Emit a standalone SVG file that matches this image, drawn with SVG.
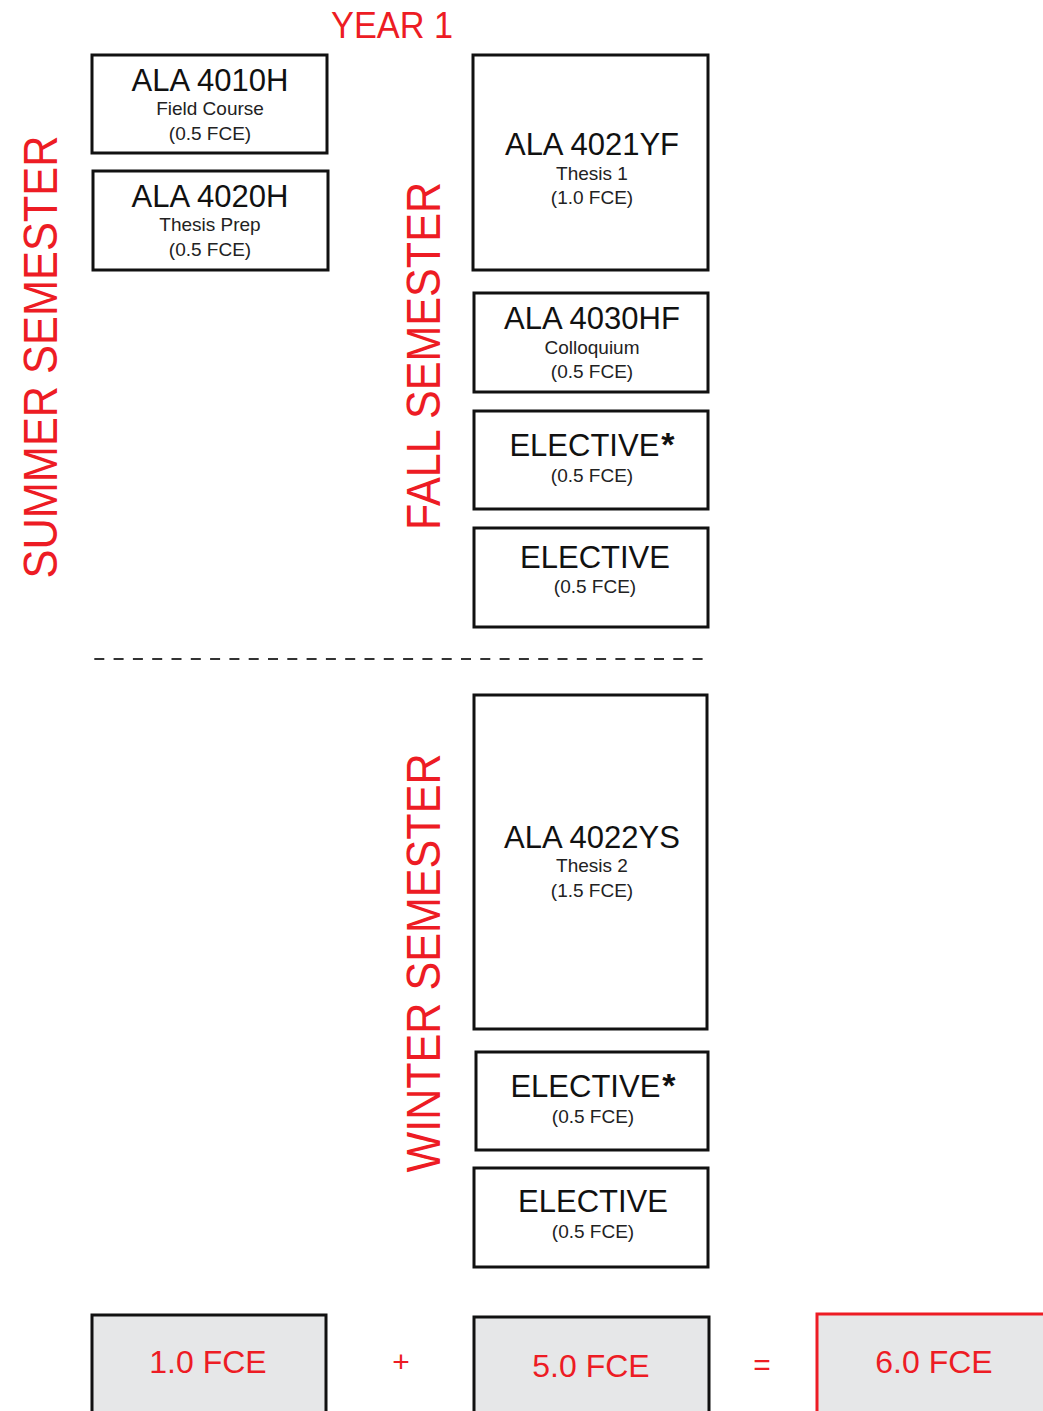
<svg xmlns="http://www.w3.org/2000/svg" width="1043" height="1411" viewBox="0 0 1043 1411">
<style>
.box{fill:#fff;stroke:#111;stroke-width:3}
.tot{fill:#e6e7e8;stroke:#111;stroke-width:3}
.totr{fill:#e6e7e8;stroke:#ed1c24;stroke-width:3}
text{font-family:"Liberation Sans",Arial,sans-serif;text-anchor:middle}
.t{font-size:31px;fill:#111}
.s{font-size:19px;fill:#222}
.red{fill:#ed1c24}
.sem{font-size:48px;fill:#ed1c24}
.big{font-size:32px;fill:#ed1c24}
.ast{font-weight:bold;font-size:34px}
</style>
<rect width="1043" height="1411" fill="#fff"/>
<text class="red" x="392" y="38" font-size="36" textLength="122" lengthAdjust="spacingAndGlyphs">YEAR 1</text>
<text class="sem" transform="translate(57,357) rotate(-90)" textLength="443" lengthAdjust="spacingAndGlyphs">SUMMER SEMESTER</text>
<text class="sem" transform="translate(440,356) rotate(-90)" textLength="348" lengthAdjust="spacingAndGlyphs">FALL SEMESTER</text>
<text class="sem" transform="translate(440,963) rotate(-90)" textLength="419" lengthAdjust="spacingAndGlyphs">WINTER SEMESTER</text>
<g id="connectors">
<line x1="90" y1="659" x2="708" y2="659" stroke="#333" stroke-width="2" stroke-dasharray="10 9.3" stroke-dashoffset="15"/>
</g>
<g id="n4010"><rect class="box" x="92" y="55" width="235" height="98"/>
<text class="t" x="210" y="91">ALA 4010H</text><text class="s" x="210" y="115">Field Course</text><text class="s" x="210" y="140">(0.5 FCE)</text></g>
<g id="n4020"><rect class="box" x="93" y="171" width="235" height="99"/>
<text class="t" x="210" y="207">ALA 4020H</text><text class="s" x="210" y="231">Thesis Prep</text><text class="s" x="210" y="256">(0.5 FCE)</text></g>
<g id="n4021"><rect class="box" x="473" y="55" width="235" height="215"/>
<text class="t" x="592" y="155">ALA 4021YF</text><text class="s" x="592" y="180">Thesis 1</text><text class="s" x="592" y="204">(1.0 FCE)</text></g>
<g id="n4030"><rect class="box" x="474" y="293" width="234" height="99"/>
<text class="t" x="592" y="329">ALA 4030HF</text><text class="s" x="592" y="354">Colloquium</text><text class="s" x="592" y="378">(0.5 FCE)</text></g>
<g id="nel1"><rect class="box" x="474" y="411" width="234" height="98"/>
<text class="t" x="592" y="456">ELECTIVE<tspan class="ast" dx="2">*</tspan></text><text class="s" x="592" y="482">(0.5 FCE)</text></g>
<g id="nel2"><rect class="box" x="474" y="528" width="234" height="99"/>
<text class="t" x="595" y="568">ELECTIVE</text><text class="s" x="595" y="593">(0.5 FCE)</text></g>
<g id="n4022"><rect class="box" x="474" y="695" width="233" height="334"/>
<text class="t" x="592" y="848">ALA 4022YS</text><text class="s" x="592" y="872">Thesis 2</text><text class="s" x="592" y="897">(1.5 FCE)</text></g>
<g id="nel3"><rect class="box" x="476" y="1052" width="232" height="98"/>
<text class="t" x="593" y="1097">ELECTIVE<tspan class="ast" dx="2">*</tspan></text><text class="s" x="593" y="1123">(0.5 FCE)</text></g>
<g id="nel4"><rect class="box" x="474" y="1168" width="234" height="99"/>
<text class="t" x="593" y="1212">ELECTIVE</text><text class="s" x="593" y="1238">(0.5 FCE)</text></g>
<g id="tot1"><rect class="tot" x="92" y="1315" width="234" height="110"/>
<text class="big" x="208" y="1373">1.0 FCE</text></g>
<text class="red" x="401" y="1372" font-size="30">+</text>
<g id="tot2"><rect class="tot" x="474" y="1317" width="235" height="110"/>
<text class="big" x="591" y="1377">5.0 FCE</text></g>
<text class="red" x="762" y="1375" font-size="30">=</text>
<g id="tot3"><rect class="totr" x="817" y="1314" width="240" height="110"/>
<text class="big" x="934" y="1373">6.0 FCE</text></g>
</svg>
